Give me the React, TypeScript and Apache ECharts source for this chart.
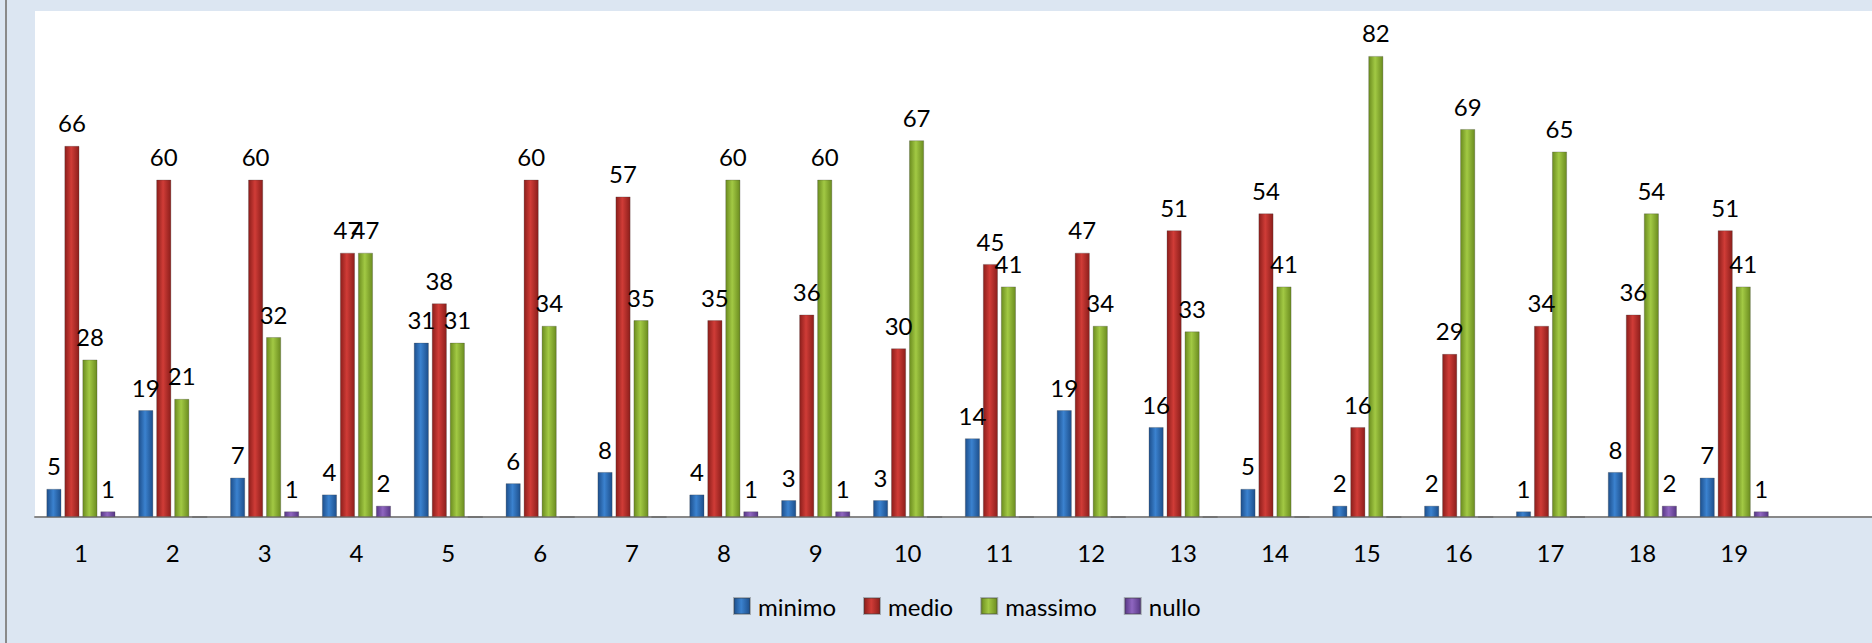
import React, { useEffect, useRef } from "react";
import * as echarts from "echarts";

const categories = ["1","2","3","4","5","6","7","8","9","10","11","12","13","14","15","16","17","18","19",""];
const minimo = [5,19,7,4,31,6,8,4,3,3,14,19,16,5,2,2,1,8,7];
const medio = [66,60,60,47,38,60,57,35,36,30,45,47,51,54,16,29,34,36,51];
const massimo = [28,21,32,47,31,34,35,60,60,67,41,34,33,41,82,69,65,54,41];
const nullo = [1,0,1,2,0,0,0,1,1,0,0,0,0,0,0,0,0,2,1];

const FONT = "Lato";

function grad(edge: string, mid: string) {
  return new echarts.graphic.LinearGradient(0, 0, 1, 0, [
    { offset: 0, color: edge },
    { offset: 0.45, color: mid },
    { offset: 1, color: edge },
  ]);
}

export default function App() {
  const ref = useRef<HTMLDivElement>(null);
  useEffect(() => {
    const chart = echarts.init(ref.current!, null, { renderer: "svg" });
    const mk = (name: string, data: number[], edge: string, mid: string) => ({
      name,
      type: "bar",
      data,
      barWidth: 15,
      barGap: "20%",
      itemStyle: { color: grad(edge, mid), borderColor: "rgba(60,60,60,0.35)", borderWidth: 0.8 },
      label: {
        show: true,
        position: "top",
        distance: 11,
        fontFamily: FONT,
        fontSize: 24,
        color: "#000",
        formatter: (p: any) => (p.value === 0 ? "" : String(p.value)),
      },
    });
    chart.setOption({
      animation: false,
      backgroundColor: "#dce6f2",
      color: ["#2f6fb7", "#c0302c", "#8db33a", "#7b4fa8"],
      graphic: [
        { type: "rect", shape: { x: 5, y: 0, width: 2, height: 643 }, style: { fill: "#8a8a8a" } },
      ],
      grid: {
        left: 35,
        right: 0,
        top: 11,
        bottom: 126,
        show: true,
        backgroundColor: "#ffffff",
        borderWidth: 0,
      },
      legend: {
        bottom: 20,
        left: 728,
        itemWidth: 16,
        itemHeight: 16,
        itemGap: 27,
        icon: "rect",
        textStyle: { fontFamily: FONT, fontSize: 24, color: "#000", padding: [0, 0, 0, 3] },
        data: ["minimo", "medio", "massimo", "nullo"],
      },
      xAxis: {
        type: "category",
        data: categories,
        axisLine: { show: true, lineStyle: { color: "#888", width: 2 } },
        axisTick: { show: false },
        axisLabel: { fontFamily: FONT, fontSize: 24, color: "#000", margin: 23 },
      },
      yAxis: {
        type: "value",
        min: 0,
        max: 90,
        show: false,
        splitLine: { show: false },
      },
      series: [
        mk("minimo", minimo, "#1d4f8c", "#3b82cf"),
        mk("medio", medio, "#8c1e1b", "#d03c37"),
        mk("massimo", massimo, "#6b8c1f", "#a2c944"),
        mk("nullo", nullo, "#573785", "#8f66c0"),
      ],
    });
    return () => chart.dispose();
  }, []);
  return <div ref={ref} style={{ position: "absolute", left: 0, top: 0, width: 1872, height: 643 }} />;
}
